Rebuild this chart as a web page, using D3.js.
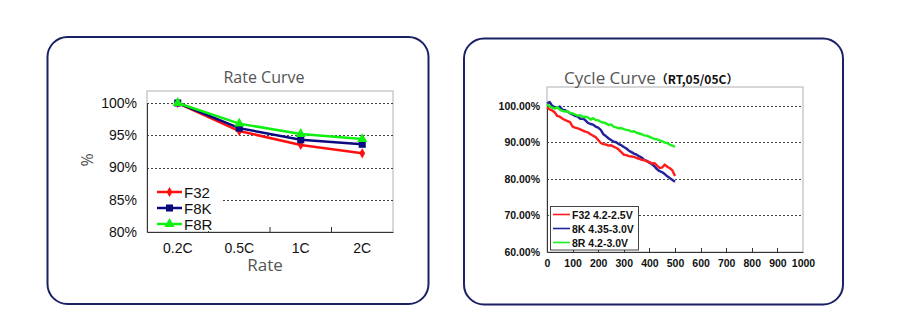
<!DOCTYPE html>
<html>
<head>
<meta charset="utf-8">
<script src="https://cdn.jsdelivr.net/npm/d3@7"></script>
<style>
  body { margin: 0; background: #fff; }
  svg { display: block; }
</style>
</head>
<body>
<svg id="chart" width="900" height="331"></svg>
<script>
// rate test: capacity retention per discharge rate
const rates = ["0.2C", "0.5C", "1C", "2C"];
const rateF32 = [100, 95.65, 93.5, 92.2];
const rateF8K = [100, 96.1, 94.3, 93.6];
const rateF8R = [100, 96.8, 95.2, 94.4];
const rateTicks = [80, 85, 90, 95, 100];

// cycle test, sampled every 10 cycles
const cycles = d3.range(0, 501, 10);
const cycF32 = [99.6, 99.0, 98.7, 98.2, 97.2, 97.0, 96.5, 96.1, 95.8, 95.5,
  94.3, 94.0, 93.8, 93.5, 93.2, 92.9, 92.7, 92.2, 91.8, 91.4,
  90.6, 89.8, 89.5, 89.4, 89.1, 89.2, 88.8, 88.5, 88.0, 87.3,
  86.6, 86.5, 86.2, 86.1, 86.0, 85.7, 85.5, 85.2, 85.1, 84.8,
  84.6, 84.2, 84.3, 83.6, 83.0, 83.1, 83.9, 83.3, 82.9, 82.3, 80.8];
const cyc8K = [100.6, 101.0, 100.0, 99.6, 99.4, 99.8, 98.9, 98.8, 98.4, 97.9,
  97.6, 97.2, 97.0, 96.4, 96.5, 96.0, 95.3, 95.0, 94.8, 94.3,
  94.0, 93.4, 92.2, 91.7, 91.1, 90.6, 90.2, 90.0, 89.5, 89.2,
  88.7, 88.3, 87.7, 87.3, 86.9, 86.6, 86.2, 85.8, 85.2, 84.9,
  84.4, 84.0, 83.4, 82.6, 82.1, 81.8, 81.3, 80.7, 80.2, 79.7, 79.2];
const cyc8R = [100.4, 99.8, 99.5, 99.2, 99.6, 98.9, 98.6, 98.4, 98.5, 98.0,
  97.9, 97.6, 97.3, 97.4, 96.9, 97.0, 96.8, 96.2, 96.6, 96.1,
  96.0, 95.6, 95.4, 95.2, 94.7, 94.9, 94.3, 94.1, 93.8, 93.9,
  93.6, 93.4, 93.3, 92.9, 93.0, 92.6, 92.4, 92.2, 91.9, 91.8,
  91.5, 91.2, 90.9, 90.8, 90.5, 90.3, 89.9, 89.8, 89.3, 89.1, 88.7];
const cycleXTicks = d3.range(0, 1001, 100);
const cycleYTicks = [60, 70, 80, 90, 100];

const svg = d3.select("#chart");
const navy = "#1c2166";

// the two rounded frames
svg.append("rect").attr("x", 47.5).attr("y", 37).attr("width", 381).attr("height", 267)
  .attr("rx", 20).attr("fill", "none").attr("stroke", navy).attr("stroke-width", 2);
svg.append("rect").attr("x", 464).attr("y", 38.5).attr("width", 379).attr("height", 266)
  .attr("rx", 20).attr("fill", "none").attr("stroke", navy).attr("stroke-width", 2);

// ---------- Rate Curve ----------
{
  const left = 147, right = 393, top = 91, bottom = 232;
  const x = d3.scaleBand().domain(rates).range([left, right]);
  const y = d3.scaleLinear().domain([80, 100]).range([bottom, 103]);
  const g = svg.append("g");

  g.append("rect").attr("x", left).attr("y", top).attr("width", right - left).attr("height", bottom - top)
    .attr("fill", "none").attr("stroke", "#b0b0b0");

  g.selectAll(".grid").data(rateTicks.filter(d => d > 80)).join("line")
    .attr("x1", left).attr("x2", right)
    .attr("y1", d => Math.round(y(d)) + 0.5).attr("y2", d => Math.round(y(d)) + 0.5)
    .attr("stroke", "#444").attr("stroke-dasharray", "2,2");

  const yAxis = g.append("g").attr("transform", `translate(${left},0)`)
    .call(d3.axisLeft(y).tickValues(rateTicks).tickFormat(d => d + "%").tickSize(0).tickPadding(10));
  yAxis.select(".domain").attr("stroke", "#333");
  yAxis.selectAll("text").attr("font-family", "Liberation Sans, Arial, sans-serif")
    .attr("font-size", 14).attr("fill", "#111");

  const xAxis = g.append("g").attr("transform", `translate(0,${bottom})`)
    .call(d3.axisBottom(x).tickSize(0).tickPadding(11));
  xAxis.select(".domain").attr("stroke", "#333");
  xAxis.selectAll("text").attr("font-family", "Liberation Sans, Arial, sans-serif")
    .attr("font-size", 14).attr("fill", "#111");
  // tick marks between categories, pointing inward
  g.selectAll(".xtick").data(rates.slice(1)).join("line")
    .attr("x1", d => x(d)).attr("x2", d => x(d))
    .attr("y1", bottom).attr("y2", bottom - 5).attr("stroke", "#333");

  g.append("text").attr("x", 264).attr("y", 83).attr("text-anchor", "middle")
    .attr("font-family", "Open Sans, sans-serif").attr("font-size", 16).attr("fill", "#555")
    .text("Rate Curve");
  g.append("text").attr("x", 265).attr("y", 271).attr("text-anchor", "middle")
    .attr("font-family", "Open Sans, sans-serif").attr("font-size", 17).attr("fill", "#555")
    .text("Rate");
  g.append("text").attr("transform", "translate(93,160) rotate(-90)").attr("text-anchor", "middle")
    .attr("font-family", "Open Sans, sans-serif").attr("font-size", 16).attr("fill", "#555")
    .text("%");

  const series = [
    { name: "F32", values: rateF32, color: "#ff1010", shape: d3.symbolDiamond, size: 30 },
    { name: "F8K", values: rateF8K, color: "#0a0a80", shape: d3.symbolSquare, size: 50 },
    { name: "F8R", values: rateF8R, color: "#10f010", shape: d3.symbolTriangle, size: 45 }
  ];
  const cx = d => x(d) + x.bandwidth() / 2;
  const line = d3.line().x(d => cx(d[0])).y(d => y(d[1]));

  // legend (white box masks the 85% grid line)
  const lg = g.append("g");
  lg.append("rect").attr("x", left + 1).attr("y", 182).attr("width", 74).attr("height", 49).attr("fill", "#fff");

  series.forEach((s, i) => {
    const pts = rates.map((r, j) => [r, s.values[j]]);
    g.append("path").attr("d", line(pts)).attr("fill", "none")
      .attr("stroke", s.color).attr("stroke-width", 2.5);
    g.selectAll(null).data(pts).join("path")
      .attr("transform", d => `translate(${cx(d[0])},${y(d[1])})`)
      .attr("d", d3.symbol(s.shape, s.size)).attr("fill", s.color);

    const ly = 192 + i * 16;
    lg.append("line").attr("x1", 157).attr("x2", 182).attr("y1", ly).attr("y2", ly)
      .attr("stroke", s.color).attr("stroke-width", 2.5);
    lg.append("path").attr("transform", `translate(169.5,${ly})`)
      .attr("d", d3.symbol(s.shape, s.size)).attr("fill", s.color);
    lg.append("text").attr("x", 184).attr("y", ly + 5.5)
      .attr("font-family", "Liberation Sans, Arial, sans-serif").attr("font-size", 15).attr("fill", "#111")
      .text(s.name);
  });
}

// ---------- Cycle Curve ----------
{
  const left = 547, right = 803, top = 87, bottom = 252;
  const x = d3.scaleLinear().domain([0, 1000]).range([left, right]);
  const y = d3.scaleLinear().domain([60, 100]).range([bottom, 105.7]);
  const g = svg.append("g");

  g.append("rect").attr("x", left).attr("y", top).attr("width", right - left).attr("height", bottom - top)
    .attr("fill", "none").attr("stroke", "#b0b0b0");

  g.selectAll(".grid").data(cycleYTicks.filter(d => d > 60)).join("line")
    .attr("x1", left).attr("x2", right)
    .attr("y1", d => Math.round(y(d)) + 0.5).attr("y2", d => Math.round(y(d)) + 0.5)
    .attr("stroke", "#444").attr("stroke-dasharray", "2,2");

  const yAxis = g.append("g").attr("transform", `translate(${left},0)`)
    .call(d3.axisLeft(y).tickValues(cycleYTicks).tickFormat(d => d.toFixed(2) + "%").tickSize(0).tickPadding(7));
  yAxis.select(".domain").attr("stroke", "#333");
  yAxis.selectAll("text").attr("font-family", "Liberation Sans, Arial, sans-serif")
    .attr("font-size", 10.5).attr("font-weight", "bold").attr("fill", "#111");

  const xAxis = g.append("g").attr("transform", `translate(0,${bottom})`)
    .call(d3.axisBottom(x).tickValues(cycleXTicks).tickFormat(d3.format("d")).tickSize(0).tickPadding(8));
  xAxis.select(".domain").attr("stroke", "#333");
  xAxis.selectAll("text").attr("font-family", "Liberation Sans, Arial, sans-serif")
    .attr("font-size", 10.5).attr("font-weight", "bold").attr("fill", "#111");
  g.selectAll(".xtick").data(cycleXTicks.slice(1, -1)).join("line")
    .attr("x1", d => Math.round(x(d)) + 0.5).attr("x2", d => Math.round(x(d)) + 0.5)
    .attr("y1", bottom).attr("y2", bottom - 4).attr("stroke", "#333");

  const title = g.append("text").attr("x", 564).attr("y", 84)
    .attr("font-family", "Open Sans, sans-serif").attr("font-size", 17).attr("fill", "#555");
  title.append("tspan").text("Cycle Curve");
  title.append("tspan").attr("font-family", "Noto Sans CJK SC, sans-serif").attr("font-size", 12)
    .attr("font-weight", "bold").attr("fill", "#111").text("（RT,05/05C）");

  const series = [
    { name: "F32 4.2-2.5V", values: cycF32, color: "#ff1c1c" },
    { name: "8K 4.35-3.0V", values: cyc8K, color: "#22229a" },
    { name: "8R 4.2-3.0V", values: cyc8R, color: "#1ef01e" }
  ];
  const line = d3.line().x(d => x(d[0])).y(d => y(d[1]));
  // blue goes underneath, red and green on top
  [series[1], series[0], series[2]].forEach(s => {
    g.append("path").attr("d", line(cycles.map((c, i) => [c, s.values[i]])))
      .attr("fill", "none").attr("stroke", s.color).attr("stroke-width", 2.4)
      .attr("stroke-linejoin", "round");
  });

  const lg = g.append("g");
  lg.append("rect").attr("x", 550.5).attr("y", 206.5).attr("width", 88).attr("height", 43.5)
    .attr("fill", "#fff").attr("stroke", "#444");
  series.forEach((s, i) => {
    const ly = 214.5 + i * 14;
    lg.append("line").attr("x1", 553).attr("x2", 570).attr("y1", ly).attr("y2", ly)
      .attr("stroke", s.color).attr("stroke-width", 1.6);
    lg.append("text").attr("x", 572).attr("y", ly + 4)
      .attr("font-family", "Liberation Sans, Arial, sans-serif").attr("font-size", 10.5)
      .attr("font-weight", "bold").attr("fill", "#111").text(s.name);
  });
}
</script>
</body>
</html>
